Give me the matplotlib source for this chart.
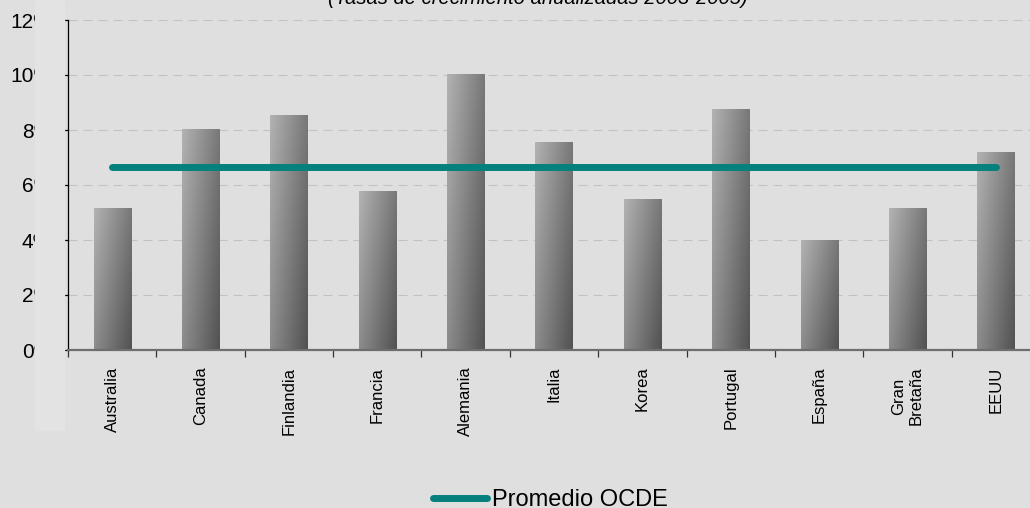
import numpy as np
import matplotlib
matplotlib.use('Agg')
import matplotlib.pyplot as plt
from matplotlib.patches import Rectangle

# tasas de crecimiento por país y promedio OCDE
paises = ['Australia', 'Canada', 'Finlandia', 'Francia', 'Alemania', 'Italia',
          'Korea', 'Portugal', 'España', 'Gran\nBretaña', 'EEUU']
crecimiento = [5.15, 8.05, 8.55, 5.8, 10.05, 7.55, 5.5, 8.75, 4.0, 5.15, 7.2]
promedio_ocde = 6.67
marcas_y = [0, 2, 4, 6, 8, 10, 12]
etiquetas_y = ['0%', '2%', '4%', '6%', '8%', '10%', '12%']

fondo = '#dfdfdf'
plt.rcParams['font.family'] = ['Liberation Sans', 'DejaVu Sans']
plt.rcParams['lines.scale_dashes'] = False

W, H = 1030, 508
fig = plt.figure(figsize=(W / 100, H / 100), dpi=100, facecolor=fondo)
ax = fig.add_axes([68 / W, 158 / H, (1040 - 68) / W, 330 / H], facecolor=fondo)

n = len(paises)
x = np.arange(n)

# barras con degradado gris (claro arriba-izquierda, oscuro abajo-derecha)
barras = ax.bar(x, crecimiento, width=0.42, color='none', zorder=2)
u, v = np.meshgrid(np.linspace(0, 1, 60), np.linspace(0, 1, 200))
gris = 0.70 - 0.38 * (0.6 * u + 0.4 * v)
for b in barras:
    x0, w, h = b.get_x(), b.get_width(), b.get_height()
    im = ax.imshow(gris, cmap='gray', vmin=0, vmax=1, aspect='auto',
                   extent=(x0, x0 + w, 0, h), origin='upper', zorder=2,
                   interpolation='bilinear')
    im.set_clip_path(b)

linea, = ax.plot(x, np.full(n, promedio_ocde), color='#05807c', lw=5,
                 solid_capstyle='round', zorder=3, label='Promedio OCDE')

ax.set_xlim(-0.5, n - 0.5)
ax.set_ylim(0, 12)

# rejilla punteada
for yv in marcas_y[1:]:
    ax.axhline(yv, color='#c2c2c2', lw=0.8, dashes=(6.5, 4.3), zorder=1)

for s in ['top', 'right']:
    ax.spines[s].set_visible(False)
ax.spines['left'].set_color('black')
ax.spines['left'].set_linewidth(0.9)
ax.spines['bottom'].set_color('#6e6e6e')
ax.spines['bottom'].set_linewidth(1.6)
ax.spines['bottom'].set_zorder(4)

ax.set_yticks(marcas_y)
ax.set_yticklabels(etiquetas_y, fontsize=15)
ax.tick_params(axis='y', length=3, width=0.9, pad=8.4, color='black')

ax.set_xticks(np.arange(n + 1) - 0.5)
ax.set_xticklabels([])
ax.tick_params(axis='x', which='major', length=5, width=0.9, color='#333333')
ax.set_xticks(x, minor=True)
ax.set_xticklabels(paises, minor=True, rotation=90, va='top', ha='center',
                   multialignment='center', fontsize=12)
ax.tick_params(axis='x', which='minor', length=0, pad=12)

# franja clara a la izquierda que tapa parte de las etiquetas
fig.patches.append(Rectangle((35 / W, 78 / H), 29 / W, 430 / H,
                             transform=fig.transFigure, color='#e3e3e3',
                             zorder=1))

fig.text(538 / W, 1 - 4 / H, '(Tasas de crecimiento anualizadas 2003-2005)',
         ha='center', va='baseline', fontsize=14.5, style='italic')

fig.legend(handles=[linea], loc='center', bbox_to_anchor=(550 / W, 8 / H),
           frameon=False, fontsize=17, handlelength=2.3,
           handletextpad=0.2, borderpad=0, borderaxespad=0)

fig.savefig('out.png', dpi=100, facecolor=fondo)
